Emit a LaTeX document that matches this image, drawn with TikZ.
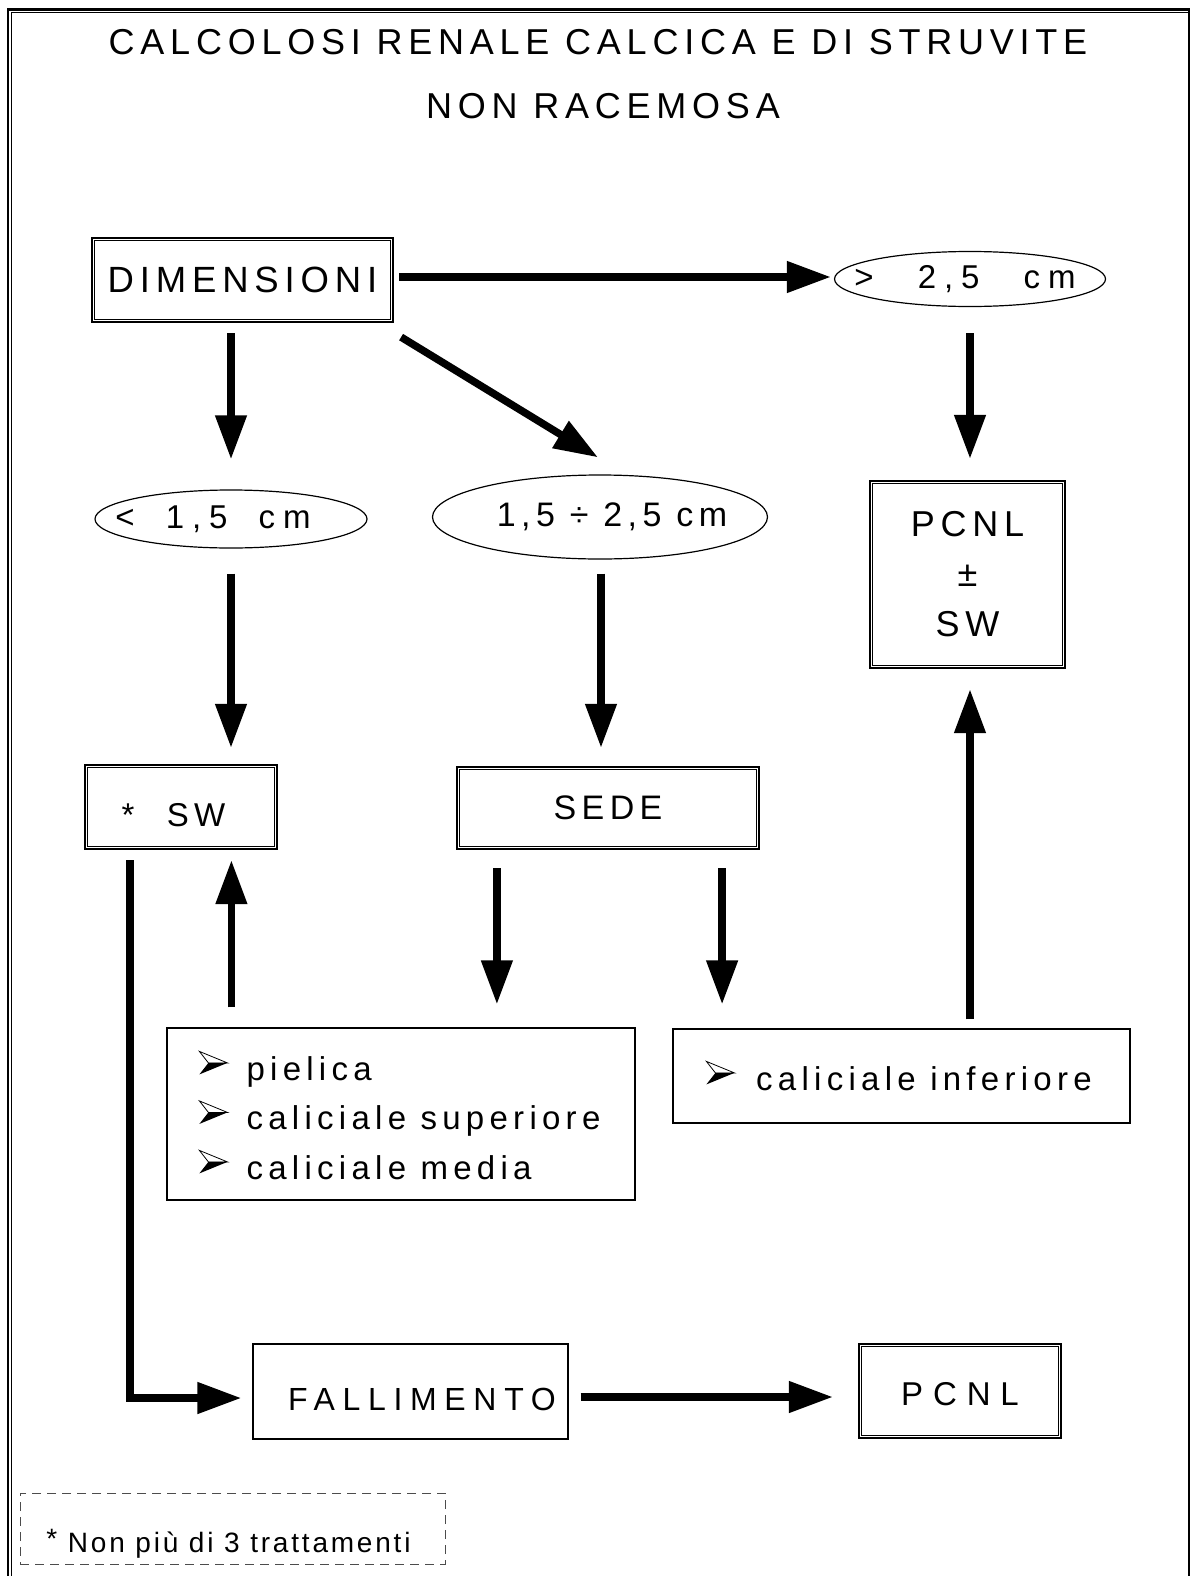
\documentclass[tikz,border=0pt]{standalone}
\usepackage{fontspec}
\setmainfont{Liberation Sans}[LetterSpace=16]
\newfontfamily\wideB{Liberation Sans}[LetterSpace=24]
\newfontfamily\wideC{Liberation Sans}[LetterSpace=24]
\newfontfamily\wideD{Liberation Sans}[LetterSpace=30]
\newfontfamily\tightA{Liberation Sans}[LetterSpace=10]
\usetikzlibrary{shapes.geometric,arrows.meta,calc}

\newcommand\fsz[2]{\fontsize{#1}{#2}\selectfont}

\begin{document}
\begin{tikzpicture}[x=1pt,y=-1pt,
  flow/.style={line width=7.5pt, -{Triangle[length=44pt,width=30pt]}},
  dbox/.style={draw, line width=2.2pt, inner sep=0pt},
  sbox/.style={draw, line width=1.2pt, inner sep=0pt},
  oval/.style={draw, ellipse, line width=1.2pt, inner sep=0pt},
  fnbox/.style={draw=black!70, line width=1pt, dash pattern=on 9pt off 6pt, inner sep=0pt},
  % list marker: 3D arrowhead, light upper half, dark lower half
  marker/.pic={
    \draw[line width=0.8pt, line join=miter] (0,0) -- (28,11.5) -- (9,11.5) -- cycle;
    \fill (9,11.5) -- (28,11.5) -- (0,23) -- cycle;
  }
]
\useasboundingbox (0,0) rectangle (1190,1576);

% page frame
\draw[line width=2.7pt] (8,9.5) rectangle (1189.5,1620);
\draw[line width=1pt] (11.5,1620) -- (11.5,13) -- (1188,13);

% title
\node[font=\fsz{36}{42}] (t1) at (598,42) {CALCOLOSI RENALE CALCICA E DI STRUVITE};
\node[font=\fsz{36}{42}] (t2) at (603,106) {NON RACEMOSA};

% boxes and ovals (oval texts are zero-width so the outline keeps its size)
\node[dbox, minimum width=301pt, minimum height=84pt, font=\fsz{36.5}{42}] (dim) at (242.5,280) {DIMENSIONI};
\node[oval, minimum width=271pt, minimum height=55pt, font=\wideB\fsz{33}{38}] (gt) at (970,279)
  {\makebox[0pt]{>\hspace{27pt} 2,5\hspace{27pt} cm\kern10pt}};
\node[oval, minimum width=272pt, minimum height=58pt, font=\wideB\fsz{33}{38}] (lt) at (231,519)
  {\makebox[0pt]{<\hspace{14pt} 1,5\hspace{14pt} cm\kern36pt}};
\node[oval, minimum width=335pt, minimum height=84pt, font=\fsz{34}{38}] (mid) at (600,517)
  {\makebox[0pt]{\kern24pt 1,5 ÷ 2,5 cm}};
\node[dbox, minimum width=195pt, minimum height=187pt, align=center, font=\fsz{36}{50}] (pcsw) at (967.5,574.5)
  {PCNL\\±\\SW};
\node[dbox, minimum width=192pt, minimum height=84pt, text height=38pt, text depth=0pt, font=\fsz{33}{38}] (sw) at (181,807)
  {*\hspace{18pt} SW\kern15pt};
\node[dbox, minimum width=302pt, minimum height=82pt, font=\fsz{34}{40}] (sede) at (608,808) {SEDE};

\node[sbox, minimum width=468pt, minimum height=172pt, align=left, text height=130pt, text depth=0pt,
      font=\fsz{33}{49.5}] (l1) at (401,1114)
  {\kern45pt pielica\\\kern45pt caliciale superiore\\\kern45pt caliciale media};
\node[sbox, minimum width=457pt, minimum height=94pt, align=left, text height=28pt, text depth=0pt,
      font=\fsz{33}{40}] (l2) at (901.5,1076)
  {\kern45pt caliciale inferiore};

% list markers
\foreach \k in {0,1,2}
  \pic at ($(l1.north west)+(33,24+49.5*\k)$) {marker};
\pic at ($(l2.north west)+(34,33)$) {marker};

\node[sbox, minimum width=315pt, minimum height=95pt, text height=38pt, text depth=0pt, font=\wideC\fsz{32}{36}] (fall) at (410.5,1391.5)
  {\kern23pt FALLIMENTO};
\node[dbox, minimum width=202pt, minimum height=94pt, text height=29.6pt, text depth=0pt, font=\wideD\fsz{33}{38}] (pcnl) at (960,1391) {PCNL};

% double inner rules
\foreach \n in {dim,pcsw,sw,sede,pcnl}
  \draw[line width=1pt] ([xshift=4pt,yshift=-4pt]\n.north west) rectangle ([xshift=-4pt,yshift=4pt]\n.south east);

% footnote
\node[fnbox, minimum width=425pt, minimum height=71pt, text height=47pt, text depth=0pt, font=\tightA\fsz{28}{34}] (fn) at (232.5,1528.5)
  {\raisebox{4pt}{*} Non più di 3 trattamenti\kern8pt};

% connectors
\draw[flow] ($(dim.east)+(5,-3)$) -- ($(gt.west)+(-3,-2)$);
\draw[flow] ($(gt.south)+(0,26)$) -- ($(gt.south |- pcsw.north)+(0,-21)$);
\draw[flow] ($(dim.south -| lt.north)+(0,10)$) -- ($(lt.north)+(0,-30)$);
\draw[flow] ($(dim.south east)+(7,14)$) -- ($(mid.north)+(-2,-17)$);
\draw[flow] ($(lt.south)+(0,25)$) -- ($(lt.south |- sw.north)+(0,-16)$);
\draw[flow] ($(mid.south)+(1,14)$) -- ($(mid.south |- sede.north)+(1,-18)$);
\draw[flow] ($(sede.south west)+(41,18)$) -- ($(sede.south west |- l1.north)+(41,-23)$);
\draw[flow] ($(sede.south east)+(-38,18)$) -- ($(sede.south east |- l2.north)+(-38,-24)$);
\draw[flow] ($(l1.north west)+(65,-20)$) -- ($(l1.north west |- sw.south)+(65,10)$);
\draw[flow] ($(l2.north)+(68.5,-9)$) -- ($(l2.north |- pcsw.south)+(68.5,20)$);
\draw[flow] ($(sw.south west)+(46,10)$) |- ($(fall.west)+(-11,6.5)$);
\draw[flow] ($(fall.east)+(12,5.5)$) -- ($(pcnl.west)+(-25,6)$);
\end{tikzpicture}
\end{document}
